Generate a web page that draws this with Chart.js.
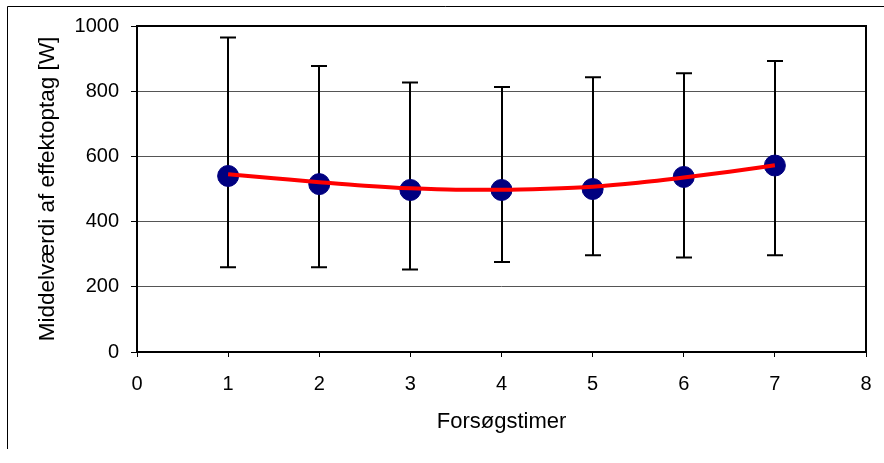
<!DOCTYPE html>
<html>
<head>
<meta charset="utf-8">
<script src="https://cdn.jsdelivr.net/npm/chart.js@4/dist/chart.umd.min.js"></script>
<style>
html,body{margin:0;padding:0;background:#fff;}
#wrap{width:884px;height:463px;position:relative;}
</style>
</head>
<body>
<div id="wrap"><canvas id="c" width="884" height="463"></canvas></div>
<script>
// Data
const hours = [1, 2, 3, 4, 5, 6, 7];
const meanPower = [540, 515, 497, 497, 500, 537, 572];
const lowPower = [260, 260, 253, 276, 297, 290, 297];
const highPower = [965, 877, 827, 813, 843, 855, 893];
const trendX = [1, 1.5, 2, 2.5, 3, 3.5, 4, 4.5, 5, 5.5, 6, 6.5, 7];
const trendY = [545, 533, 521, 510, 502, 498, 498, 501, 507, 519, 535, 553, 573];
const xTicks = [0, 1, 2, 3, 4, 5, 6, 7, 8];
const yTicks = [0, 200, 400, 600, 800, 1000];
const xTitle = 'Forsøgstimer';
const yTitle = 'Middelværdi af effektoptag [W]';

const FONT = '"Liberation Sans", Arial, sans-serif';

const errorBars = {
  id: 'errorBars',
  beforeDatasetsDraw(chart) {
    const {ctx, scales: {x, y}} = chart;
    ctx.save();
    ctx.strokeStyle = '#000';
    ctx.lineWidth = 2;
    const cap = 8;
    hours.forEach((h, i) => {
      const px = Math.round(x.getPixelForValue(h));
      const yl = y.getPixelForValue(lowPower[i]);
      const yh = y.getPixelForValue(highPower[i]);
      ctx.beginPath();
      ctx.moveTo(px, yl); ctx.lineTo(px, yh);
      ctx.moveTo(px - cap, yl); ctx.lineTo(px + cap, yl);
      ctx.moveTo(px - cap, yh); ctx.lineTo(px + cap, yh);
      ctx.stroke();
    });
    ctx.restore();
  }
};

const frames = {
  id: 'frames',
  afterDraw(chart) {
    const {ctx, chartArea: a} = chart;
    ctx.save();
    ctx.strokeStyle = '#000';
    ctx.lineWidth = 2;
    ctx.strokeRect(a.left, a.top, a.right - a.left, a.bottom - a.top);
    ctx.lineWidth = 1;
    ctx.beginPath();
    ctx.moveTo(7.5, 449); ctx.lineTo(7.5, 6.5); ctx.lineTo(884, 6.5);
    ctx.stroke();
    ctx.restore();
  }
};

new Chart(document.getElementById('c'), {
  type: 'scatter',
  data: {
    datasets: [
      {
        type: 'line',
        label: 'trend',
        data: trendX.map((v, i) => ({x: v, y: trendY[i]})),
        borderColor: '#FF0000',
        borderWidth: 4,
        pointRadius: 0,
        tension: 0.4,
        cubicInterpolationMode: 'monotone',
        fill: false,
        order: 0
      },
      {
        label: 'mean',
        data: hours.map((h, i) => ({x: h, y: meanPower[i]})),
        backgroundColor: '#000080',
        borderColor: '#000080',
        pointRadius: 10.5,
        pointHoverRadius: 10.5,
        order: 1
      }
    ]
  },
  options: {
    responsive: false,
    animation: false,
    events: [],
    layout: {padding: {left: 0, top: 26, right: 18, bottom: 0}},
    plugins: {legend: {display: false}, tooltip: {enabled: false}},
    scales: {
      x: {
        type: 'linear',
        min: 0, max: 8,
        afterFit(s) { s.height = 111; s.paddingRight = 0; s.paddingLeft = 0; },
        afterBuildTicks(s) { s.ticks = xTicks.map(v => ({value: v})); },
        grid: {drawOnChartArea: false, drawTicks: true, tickLength: 5, tickColor: '#000', tickWidth: 1},
        border: {display: false},
        ticks: {color: '#000', font: {family: FONT, size: 20}, padding: 15, maxRotation: 0, callback: v => String(v)},
        title: {display: true, text: xTitle, color: '#000', font: {family: FONT, size: 22}, padding: {top: 0, bottom: 28}}
      },
      y: {
        type: 'linear',
        min: 0, max: 1000,
        afterFit(s) { s.width = 137; },
        afterBuildTicks(s) { s.ticks = yTicks.map(v => ({value: v})); },
        grid: {color: '#555', lineWidth: 1, drawTicks: true, tickLength: 6, tickColor: '#000', tickWidth: 1},
        border: {display: false},
        ticks: {color: '#000', font: {family: FONT, size: 20}, padding: 12, callback: v => String(v)},
        title: {display: true, text: yTitle, color: '#000', font: {family: FONT, size: 22.5}, padding: {top: 34, bottom: 0}}
      }
    }
  },
  plugins: [errorBars, frames]
});
</script>
</body>
</html>
